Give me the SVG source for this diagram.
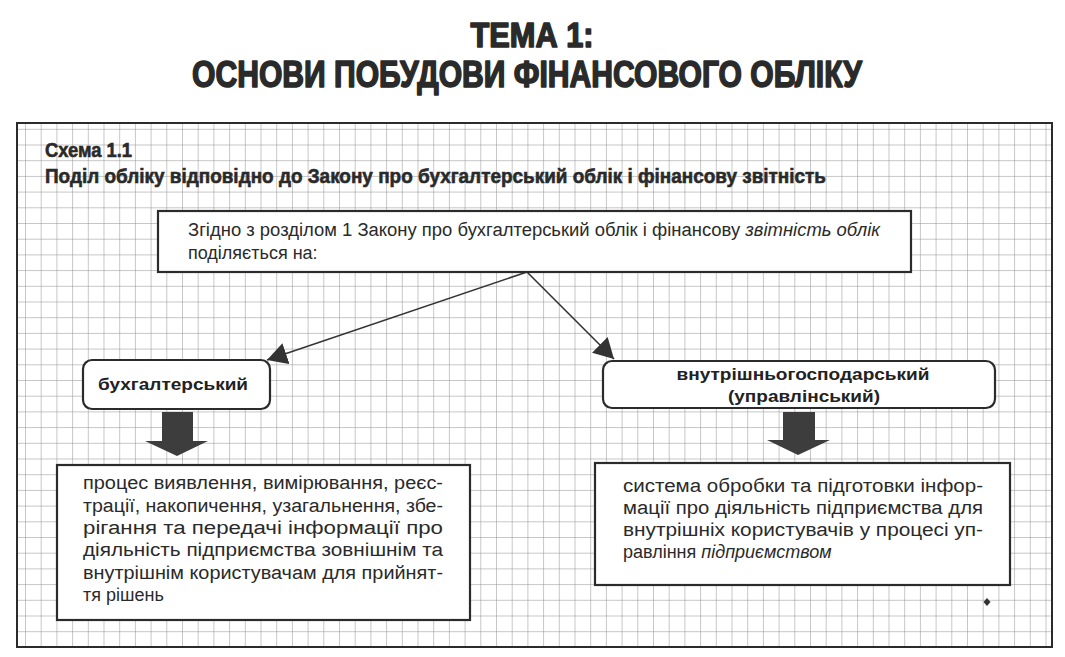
<svg xmlns="http://www.w3.org/2000/svg" width="1065" height="657" viewBox="0 0 1065 657">
<defs>
<pattern id="grid" patternUnits="userSpaceOnUse" x="25" y="380" width="15.7" height="15.7">
<path d="M0,0 V15.7 M0,0 H15.7" stroke="#8e8e8e" stroke-width="1" fill="none"/>
</pattern>
<marker id="tri" markerUnits="userSpaceOnUse" markerWidth="22" markerHeight="22" refX="20" refY="11" orient="auto" viewBox="0 0 22 22">
<path d="M0,0 L20,11 L0,22 Z" fill="#333"/>
</marker>
<style>
.title{font-family:"Liberation Sans Narrow","Liberation Sans",Arial,sans-serif;font-weight:bold;fill:#2a2a2a;stroke:#2a2a2a;stroke-width:1.6;stroke-linejoin:round}
.head{font-family:"Liberation Sans Narrow","Liberation Sans",Arial,sans-serif;font-weight:bold;fill:#2a2a2a;font-size:21px;stroke:#2a2a2a;stroke-width:0.6}
.body{font-family:"Liberation Sans",Arial,sans-serif;font-size:18px;fill:#2a2a2a}
.lbl{font-family:"Liberation Sans",Arial,sans-serif;font-weight:bold;font-size:16px;fill:#222}
.box{fill:#fff;stroke:#2b2b2b;stroke-width:2.2}
.blk{fill:#3d3d3d}
.conn{stroke:#333;stroke-width:1.6;fill:none}
</style>
</defs>
<rect width="1065" height="657" fill="#fff"/>
<text class="title" x="532" y="47" font-size="35" text-anchor="middle" textLength="123" lengthAdjust="spacingAndGlyphs">ТЕМА 1:</text>
<text class="title" x="527" y="87" font-size="37" text-anchor="middle" textLength="670" lengthAdjust="spacingAndGlyphs">ОСНОВИ ПОБУДОВИ ФІНАНСОВОГО ОБЛІКУ</text>
<g id="frame">
<rect x="17" y="123" width="1035" height="524" fill="url(#grid)" stroke="#2b2b2b" stroke-width="2"/>
</g>
<text class="head" x="45" y="157" textLength="87" lengthAdjust="spacingAndGlyphs">Схема 1.1</text>
<text class="head" x="45" y="183" textLength="781" lengthAdjust="spacingAndGlyphs">Поділ обліку відповідно до Закону про бухгалтерський облік і фінансову звітність</text>
<g id="connectors">
<line class="conn" x1="527" y1="272" x2="267" y2="360" marker-end="url(#tri)"/>
<line class="conn" x1="527" y1="272" x2="614" y2="359" marker-end="url(#tri)"/>
<path class="blk" d="M162,412 H193 V441 H208 L177,456 L145,441 H162 Z"/>
<path class="blk" d="M783,412 H815 V440 H830 L798,455 L767,440 H783 Z"/>
</g>
<g id="top">
<rect class="box" x="158" y="211" width="753" height="61"/>
<text class="body" x="188" y="236" textLength="692" lengthAdjust="spacingAndGlyphs">Згідно з розділом 1 Закону про бухгалтерський облік і фінансову <tspan font-style="italic">звітність облік</tspan></text>
<text class="body" x="188" y="259">поділяється на:</text>
</g>
<g id="buh">
<rect class="box" x="83" y="360" width="187" height="49" rx="9"/>
<text class="lbl" x="98" y="390" textLength="150" lengthAdjust="spacingAndGlyphs">бухгалтерський</text>
</g>
<g id="vnut">
<rect class="box" x="603" y="361" width="392" height="47" rx="9"/>
<text class="lbl" x="803" y="380" text-anchor="middle" textLength="253" lengthAdjust="spacingAndGlyphs">внутрішньогосподарський</text>
<text class="lbl" x="804" y="402" text-anchor="middle" textLength="152" lengthAdjust="spacingAndGlyphs">(управлінський)</text>
</g>
<g id="buh-def">
<rect class="box" x="57" y="465" width="413" height="155"/>
<text class="body" x="83" y="489" textLength="360" lengthAdjust="spacingAndGlyphs">процес виявлення, вимірювання, реєс-</text>
<text class="body" x="83" y="512" textLength="360" lengthAdjust="spacingAndGlyphs">трації, накопичення, узагальнення, збе-</text>
<text class="body" x="83" y="534" textLength="360" lengthAdjust="spacingAndGlyphs">рігання та передачі інформації про</text>
<text class="body" x="83" y="556" textLength="360" lengthAdjust="spacingAndGlyphs">діяльність підприємства зовнішнім та</text>
<text class="body" x="83" y="579" textLength="360" lengthAdjust="spacingAndGlyphs">внутрішнім користувачам для прийнят-</text>
<text class="body" x="83" y="601">тя рішень</text>
</g>
<g id="vnut-def">
<rect class="box" x="595" y="463" width="415" height="122"/>
<text class="body" x="623" y="492" textLength="360" lengthAdjust="spacingAndGlyphs">система обробки та підготовки інфор-</text>
<text class="body" x="623" y="514" textLength="360" lengthAdjust="spacingAndGlyphs">мації про діяльність підприємства для</text>
<text class="body" x="623" y="536" textLength="360" lengthAdjust="spacingAndGlyphs">внутрішніх користувачів у процесі уп-</text>
<text class="body" x="623" y="558">равління <tspan font-style="italic">підприємством</tspan></text>
</g>
<path d="M987,598 L990.5,602 L987,606 L983.5,602 Z" fill="#333"/>
</svg>
